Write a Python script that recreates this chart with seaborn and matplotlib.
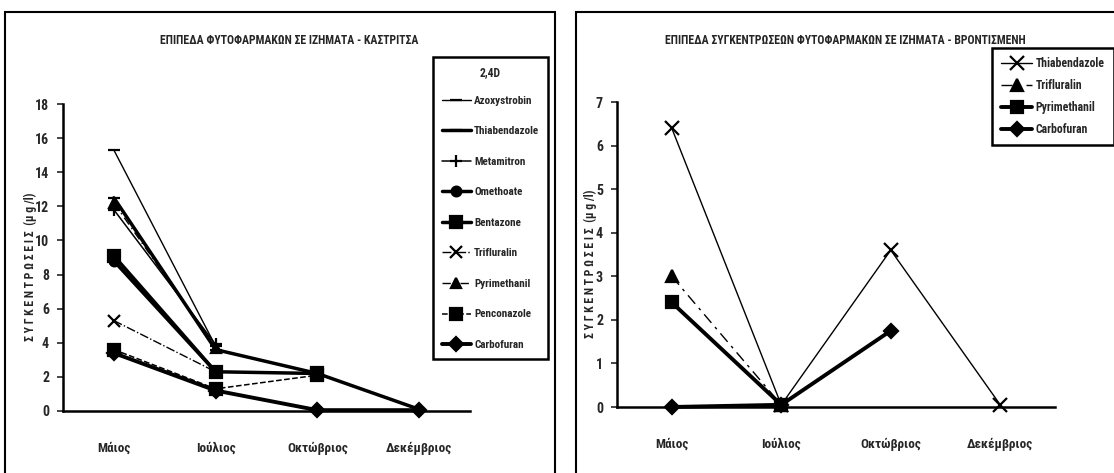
import numpy as np
import pandas as pd
import matplotlib
matplotlib.use("Agg")
import matplotlib.pyplot as plt
import seaborn as sns
from matplotlib.patches import Rectangle

sns.set_style("white")
plt.rcParams['font.family'] = ['Roboto Condensed', 'Liberation Sans Narrow', 'Liberation Sans', 'DejaVu Sans']
plt.rcParams['font.weight'] = 'bold'

months = ["Μάιος", "Ιούλιος", "Οκτώβριος", "Δεκέμβριος"]

# Left panel: Kastritsa
left_title = "ΕΠΙΠΕΔΑ ΦΥΤΟΦΑΡΜΑΚΩΝ ΣΕ ΙΖΗΜΑΤΑ - ΚΑΣΤΡΙΤΣΑ"
left_series = ["Azoxystrobin", "Thiabendazole", "Metamitron", "Omethoate", "Bentazone",
               "Trifluralin", "Pyrimethanil", "Penconazole", "Carbofuran"]
azoxystrobin = [15.3, 3.8, np.nan, np.nan]
thiabendazole_k = [12.5, 3.6, 2.2, 0.1]
metamitron = [11.8, 3.9, np.nan, np.nan]
omethoate = [8.8, 2.3, np.nan, np.nan]
bentazone = [9.1, 2.3, 2.2, np.nan]
trifluralin_k = [5.3, 2.3, np.nan, np.nan]
pyrimethanil_k = [12.2, 3.7, np.nan, np.nan]
penconazole = [3.6, 1.3, 2.1, np.nan]
carbofuran_k = [3.4, 1.2, 0.05, 0.05]
left_values = [azoxystrobin, thiabendazole_k, metamitron, omethoate, bentazone,
               trifluralin_k, pyrimethanil_k, penconazole, carbofuran_k]
left_yticks = [0, 2, 4, 6, 8, 10, 12, 14, 16, 18]

# Right panel: Vrontismeni
right_title = "ΕΠΙΠΕΔΑ ΣΥΓΚΕΝΤΡΩΣΕΩΝ ΦΥΤΟΦΑΡΜΑΚΩΝ ΣΕ ΙΖΗΜΑΤΑ - ΒΡΟΝΤΙΣΜΕΝΗ"
right_series = ["Thiabendazole", "Trifluralin", "Pyrimethanil", "Carbofuran"]
thiabendazole_v = [6.4, 0.05, 3.6, 0.05]
trifluralin_v = [3.0, 0.05, np.nan, np.nan]
pyrimethanil_v = [2.4, 0.05, np.nan, np.nan]
carbofuran_v = [0.0, 0.05, 1.75, np.nan]
right_values = [thiabendazole_v, trifluralin_v, pyrimethanil_v, carbofuran_v]
right_yticks = [0, 1, 2, 3, 4, 5, 6, 7]

ylabel = "Σ Υ Γ Κ Ε Ν Τ Ρ Ω Σ Ε Ι Σ  (μ g /l)"

left_styles = {
    "Azoxystrobin": dict(lw=1.0, ls="-", marker="_", ms=9),
    "Thiabendazole": dict(lw=2.5, ls="-", marker="_", ms=9),
    "Metamitron": dict(lw=1.1, ls="-", marker="+", ms=9),
    "Omethoate": dict(lw=2.5, ls="-", marker="o", ms=7),
    "Bentazone": dict(lw=2.5, ls="-", marker="s", ms=8),
    "Trifluralin": dict(lw=1.0, ls="-.", marker="x", ms=8),
    "Pyrimethanil": dict(lw=1.0, ls=(0, (6, 3, 1, 3)), marker="^", ms=7),
    "Penconazole": dict(lw=1.1, ls="--", marker="s", ms=8),
    "Carbofuran": dict(lw=2.8, ls="-", marker="D", ms=7),
}
right_styles = {
    "Thiabendazole": dict(lw=1.0, ls="-", marker="x", ms=10),
    "Trifluralin": dict(lw=1.0, ls=(0, (8, 4, 2, 4)), marker="^", ms=8),
    "Pyrimethanil": dict(lw=2.8, ls="-", marker="s", ms=8),
    "Carbofuran": dict(lw=2.8, ls="-", marker="D", ms=7),
}

W, H = 1114, 473
fig = plt.figure(figsize=(W / 100, H / 100), dpi=100)

def fx(px):
    return px / W

def fy(py):
    return 1 - py / H

# panel frames
fig.patches.append(Rectangle((fx(5), fy(480)), fx(550), fy(12) - fy(480), transform=fig.transFigure,
                             fill=False, edgecolor="black", lw=1.5))
fig.patches.append(Rectangle((fx(576), fy(480)), fx(560), fy(12) - fy(480), transform=fig.transFigure,
                             fill=False, edgecolor="black", lw=1.5))

def draw_panel(ax_rect, names, values, styles, yticks, title, title_x, ylab_x, legend_anchor,
               legend_title=None, legend_spacing=1.0, leg_fs=7):
    ax = fig.add_axes(ax_rect)
    xs = np.arange(len(months))
    handles = []
    for name, vals in zip(names, values):
        df = pd.DataFrame({"x": xs, "y": vals}).dropna()
        st = styles[name]
        sns.lineplot(data=df, x="x", y="y", ax=ax, color="black", linewidth=st["lw"],
                     linestyle=st["ls"], marker=st["marker"], markersize=st["ms"],
                     markeredgecolor="black", markerfacecolor="black", markeredgewidth=1.6,
                     label=name, legend=False, clip_on=False)
        handles.append(ax.get_lines()[-1])
    ax.set_xlim(-0.5, 3.5)
    ax.set_ylim(0, yticks[-1])
    ax.set_yticks(yticks)
    ax.set_yticklabels([str(t) for t in yticks], fontsize=10, fontweight="bold")
    ax.set_xticks(xs)
    ax.set_xticklabels(months, fontsize=9.5, fontweight="bold")
    ax.set_xticks(np.arange(-0.5, 3.6, 1.0), minor=True)
    ax.tick_params(axis="x", which="major", length=0, pad=22)
    ax.tick_params(axis="x", which="minor", length=4, width=1.2, direction="inout")
    ax.tick_params(axis="y", which="major", length=4, width=1.2, direction="out", pad=6, left=True)
    for s in ["top", "right"]:
        ax.spines[s].set_visible(False)
    for s in ["left", "bottom"]:
        ax.spines[s].set_linewidth(1.8)
        ax.spines[s].set_color("black")
    ax.set_xlabel("")
    ax.set_ylabel("")
    fig.text(title_x, fy(41), title, ha="center", va="center", fontsize=8.5, fontweight="bold")
    pos = ax.get_position()
    fig.text(ylab_x, pos.y0 + pos.height * 0.47, ylabel, rotation=90, ha="center", va="center",
             fontsize=8.5, fontweight="bold")
    leg = ax.legend(handles=handles, labels=names, loc="upper left",
                    bbox_to_anchor=legend_anchor, bbox_transform=fig.transFigure,
                    frameon=True, fancybox=False, edgecolor="black", framealpha=1,
                    prop={"size": leg_fs, "weight": "bold"}, handlelength=2.6, handletextpad=0.3,
                    labelspacing=legend_spacing, borderpad=0.8, borderaxespad=0, title=legend_title,
                    title_fontproperties={"size": 8.5, "weight": "bold"})
    leg.get_frame().set_linewidth(1.8)
    if legend_title:
        leg._legend_box.sep = 12
    return ax

draw_panel([fx(63), fy(411), fx(470) - fx(63), fy(104) - fy(411)], left_series, left_values,
           left_styles, left_yticks, left_title, fx(289), fx(30), (fx(433), fy(57)),
           legend_title="2,4D", legend_spacing=1.85, leg_fs=8)
draw_panel([fx(617), fy(407), fx(1055) - fx(617), fy(102) - fy(407)], right_series, right_values,
           right_styles, right_yticks, right_title, fx(845), fx(590), (fx(992), fy(48)),
           legend_spacing=0.75, leg_fs=8.5)

fig.savefig("out.png", dpi=100)
